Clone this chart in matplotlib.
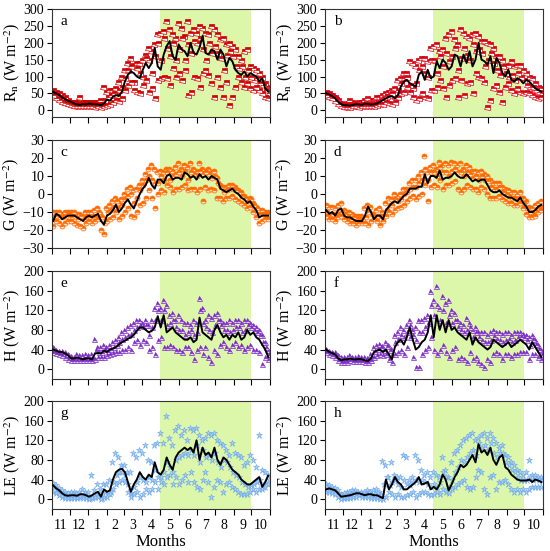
import numpy as np
import matplotlib
matplotlib.use("Agg")
import matplotlib.pyplot as plt

plt.rcParams['font.family'] = ['Liberation Serif', 'DejaVu Serif']
plt.rcParams['mathtext.fontset'] = 'stix'

# 5-day steps starting 1 Nov (day 0) to end of Oct
days = np.arange(0, 365, 5)
month_starts = [0, 30, 61, 92, 120, 151, 181, 212, 242, 273, 304, 334, 365]
month_labels = ['11', '12', '1', '2', '3', '4', '5', '6', '7', '8', '9', '10']
season = (181, 334)  # May - Sep shading

# ---------------- a : Rn (site 1) ----------------
rn1_mean = [55, 50, 45, 38, 32, 28, 25, 20, 17, 16, 18, 17, 20, 18, 18, 17, 15, 20,
            32, 28, 40, 45, 42, 55, 85, 105, 115, 110, 100, 95, 120, 140, 125, 140, 185, 130,
            120, 165, 190, 205, 160, 150, 195, 180, 175, 160, 200, 170, 165, 185, 220, 170, 165, 180,
            175, 150, 180, 165, 130, 155, 145, 120, 110, 105, 115, 100, 110, 105, 100, 85, 95, 65, 55]
rn1_hi = [60, 55, 50, 45, 40, 30, 25, 25, 25, 40, 25, 25, 25, 25, 25, 25, 30, 70,
          55, 60, 60, 65, 85, 100, 120, 140, 155, 135, 140, 140, 150, 165, 185, 175, 195, 225,
          230, 235, 265, 240, 225, 215, 260, 245, 220, 265, 230, 240, 230, 250, 245, 230, 225, 250,
          240, 225, 210, 215, 195, 200, 190, 180, 160, 150, 175, 180, 130, 125, 120, 110, 100, 80, 70]
rn1_mid = [52, 45, 40, 35, 28, 25, 20, 18, 20, 18, 20, 18, 18, 20, 15, 20, 18, 30,
           40, 45, 50, 45, 60, 70, 95, 120, 130, 85, 125, 110, 100, 155, 150, 110, 160, 200,
           150, 215, 185, 160, 200, 150, 180, 215, 150, 195, 170, 205, 200, 215, 180, 150, 200, 170,
           190, 170, 155, 120, 165, 175, 160, 130, 125, 130, 100, 120, 100, 90, 95, 80, 75, 60, 50]
rn1_lo = [45, 35, 30, 25, 22, 18, 15, 12, 12, 12, 12, 12, 12, 12, 10, 12, 10, 12,
          15, 20, 25, 30, 28, 35, 60, 75, 85, 60, 55, 50, 75, 90, 55, 65, 35, 90,
          95, 100, 95, 75, 125, 100, 110, 90, 120, 45, 55, 100, 95, 70, 110, 120, 105, 80,
          40, 100, 70, 40, 85, 15, 40, 70, 100, 85, 70, 80, 65, 60, 70, 60, 50, 40, 35]

# ---------------- b : Rn (site 2) ----------------
rn2_mean = [50, 47, 42, 35, 25, 18, 15, 15, 14, 16, 18, 17, 16, 20, 18, 17, 18, 20,
            25, 30, 35, 40, 42, 35, 45, 70, 85, 90, 80, 75, 70, 105, 115, 90, 120, 95,
            100, 145, 125, 150, 140, 120, 130, 165, 160, 130, 165, 140, 175, 130, 150, 200, 150, 145,
            135, 160, 110, 155, 140, 110, 100, 120, 90, 85, 95, 90, 80, 90, 85, 75, 65, 60, 55]
rn2_hi = [55, 50, 45, 40, 30, 22, 20, 22, 30, 25, 22, 25, 25, 30, 35, 30, 30, 40,
          40, 45, 50, 55, 60, 65, 90, 95, 110, 110, 145, 140, 130, 150, 155, 155, 145, 185,
          190, 195, 175, 180, 215, 225, 235, 210, 195, 240, 230, 220, 215, 225, 230, 220, 205, 205,
          200, 195, 185, 160, 160, 150, 130, 135, 145, 130, 135, 135, 120, 110, 100, 95, 80, 70, 65]
rn2_mid = [52, 45, 40, 32, 22, 15, 15, 18, 15, 20, 15, 15, 18, 22, 20, 22, 20, 25,
           30, 35, 42, 45, 50, 40, 60, 80, 95, 100, 75, 65, 80, 120, 130, 110, 100, 150,
           150, 110, 160, 130, 170, 145, 160, 185, 120, 155, 185, 165, 150, 195, 175, 180, 170, 130,
           150, 170, 140, 120, 105, 130, 110, 100, 105, 90, 110, 100, 90, 75, 70, 70, 60, 55, 50]
rn2_lo = [45, 40, 35, 28, 18, 12, 10, 10, 10, 12, 12, 10, 12, 12, 12, 12, 12, 15,
          18, 20, 25, 22, 20, 25, 40, 50, 55, 70, 55, 40, 30, 35, 50, 40, 35, 60,
          60, 70, 90, 65, 40, 75, 90, 95, 40, 90, 45, 80, 85, 50, 110, 100, 95, 85,
          10, 30, 65, 75, 55, 25, 70, 80, 60, 50, 65, 55, 50, 55, 50, 45, 40, 35, 40]

# ---------------- c : G (site 1) ----------------
g1_mean = [-15, -11, -12, -14, -13, -12, -12, -12, -13, -14, -15, -13, -12, -13, -12, -11, -15, -17,
           -12, -11, -9, -6, -10, -8, -5, -3, -6, -8, -4, 0, 3, 5, 9, 5, 3, 8,
           8, 6, 10, 11, 8, 9, 9, 8, 12, 11, 9, 10, 8, 11, 9, 10, 8, 10,
           9, 8, 3, 2, 1, 2, 3, 1, 0, -2, -3, -5, -4, -7, -9, -13, -12, -12, -12]
g1_hi = [-10, -10, -10, -11, -10, -10, -10, -10, -11, -11, -12, -10, -10, -10, -9, -8, -11, -14,
         -8, -6, -4, -2, -5, -3, 0, 3, 4, 2, 3, 5, 8, 11, 14, 16, 14, 12,
         13, 12, 14, 14, 13, 15, 17, 14, 16, 15, 17, 14, 13, 17, 14, 13, 14, 12,
         13, 9, 5, 4, 4, 5, 5, 4, 2, 1, -1, -3, -2, -5, -7, -9, -9, -10, -10]
g1_mid = [-13, -12, -13, -13, -12, -11, -13, -12, -14, -12, -14, -12, -13, -12, -13, -10, -13, -16,
          -10, -9, -7, -4, -8, -6, -3, -1, 0, -5, -2, 2, 5, 8, 10, 8, 6, 6,
          10, 8, 12, 8, 10, 11, 12, 10, 13, 8, 12, 11, 10, 13, 11, 12, 11, 9,
          10, 6, 4, 1, 2, 3, 3, 2, 1, -1, -2, -4, -3, -6, -8, -11, -11, -11, -11]
g1_lo = [-18, -15, -16, -18, -16, -15, -15, -16, -17, -18, -19, -16, -15, -16, -15, -14, -20, -22,
         -15, -14, -13, -10, -14, -12, -10, -8, -12, -13, -10, -6, -5, -2, 2, -2, -8, 0,
         2, 1, 5, 4, 1, 3, 3, 4, 5, 2, 3, 3, 1, 3, -4, 4, 2, 3,
         2, -2, -2, -4, -2, -2, -1, -3, -4, -5, -6, -8, -7, -10, -13, -16, -15, -14, -14]

# ---------------- d : G (site 2) ----------------
g2_mean = [-9, -11, -10, -12, -9, -8, -12, -13, -13, -14, -15, -15, -15, -12, -7, -10, -14, -12,
           -12, -14, -9, -7, -5, -4, -5, -3, -1, 0, 3, 3, 3, 4, 4, 11, 6, 10,
           10, 9, 13, 8, 9, 9, 10, 12, 10, 9, 9, 11, 9, 7, 8, 7, 8, 8,
           5, 2, 1, 1, 2, 0, -1, -2, -2, -3, -4, -2, -5, -7, -10, -10, -9, -7, -6]
g2_hi = [-6, -7, -7, -8, -6, -5, -9, -10, -10, -11, -12, -12, -12, -8, -6, -7, -11, -9,
         -8, -10, -5, -2, -3, 0, -1, 0, 3, 3, 6, 8, 8, 10, 12, 21, 12, 15,
         16, 14, 18, 16, 17, 16, 18, 17, 16, 17, 14, 16, 15, 13, 13, 12, 13, 11,
         10, 8, 6, 6, 6, 4, 3, 2, 1, 1, 0, 1, -2, -4, -7, -8, -6, -5, -4]
g2_mid = [-10, -12, -11, -13, -11, -10, -11, -12, -14, -13, -14, -14, -14, -13, -10, -11, -13, -12,
          -12, -12, -9, -6, -6, -3, -4, -3, 0, 1, 3, 4, 4, 6, 8, 14, 8, 12,
          12, 10, 15, 12, 12, 10, 13, 14, 12, 12, 10, 12, 11, 9, 10, 8, 10, 8,
          7, 4, 3, 3, 4, 1, 0, -1, -2, -2, -3, -2, -5, -8, -10, -11, -9, -8, -7]
g2_lo = [-12, -14, -14, -15, -13, -12, -14, -15, -16, -16, -17, -16, -16, -16, -17, -15, -12, -15,
         -17, -15, -12, -10, -11, -9, -8, -7, -6, -4, -2, -1, -3, -1, 0, 5, -4, 4,
         5, 4, 8, 3, 5, 5, 6, 7, 3, 1, 3, 5, 4, 3, 3, 1, 4, 3,
         0, -2, -2, -2, -1, -3, -4, -5, -5, -6, -6, -5, -8, -11, -13, -13, -12, -10, -9]

# ---------------- e : H (site 1) ----------------
h1_mean = [40, 38, 35, 35, 32, 28, 22, 22, 24, 22, 20, 22, 22, 20, 32, 33, 32, 38,
           35, 40, 42, 45, 50, 55, 58, 62, 65, 70, 78, 85, 85, 80, 75, 78, 85, 108,
           85, 110, 75, 80, 85, 75, 70, 65, 60, 60, 65, 55, 60, 105, 75, 70, 65, 60,
           80, 90, 75, 65, 70, 60, 70, 65, 75, 60, 65, 80, 70, 75, 65, 60, 50, 40, 25]
h1_hi = [45, 40, 38, 38, 35, 30, 26, 25, 30, 28, 28, 30, 28, 30, 62, 45, 45, 50,
         45, 50, 55, 60, 65, 75, 80, 85, 90, 95, 100, 100, 95, 100, 90, 100, 125, 135,
         125, 140, 130, 110, 115, 100, 110, 100, 95, 95, 90, 100, 95, 145, 125, 100, 110, 105,
         110, 115, 100, 95, 95, 100, 95, 100, 100, 95, 100, 100, 95, 90, 85, 80, 70, 55, 40]
h1_mid = [38, 36, 33, 32, 30, 25, 20, 22, 22, 20, 22, 25, 20, 22, 40, 35, 35, 42,
          38, 42, 45, 50, 55, 62, 65, 70, 72, 80, 85, 90, 88, 90, 70, 85, 100, 120,
          100, 120, 90, 95, 100, 85, 80, 80, 70, 75, 80, 70, 75, 120, 95, 85, 80, 75,
          90, 100, 90, 80, 80, 75, 80, 85, 85, 75, 80, 90, 85, 80, 75, 70, 55, 45, 30]
h1_lo = [35, 32, 30, 28, 25, 20, 18, 18, 18, 18, 18, 18, 18, 18, 20, 25, 25, 25,
         28, 30, 32, 35, 35, 40, 40, 45, 40, 55, 60, 50, 60, 55, 40, 45, 30, 60,
         65, 45, 45, 50, 45, 40, 40, 35, 45, 45, 35, 20, 40, 45, 30, 45, 25, 15,
         40, 30, 50, 55, 45, 40, 50, 55, 45, 50, 40, 45, 50, 40, 40, 35, 10, 25, 20]

# ---------------- f : H (site 2) ----------------
h2_mean = [40, 35, 33, 30, 22, 18, 20, 20, 22, 20, 20, 21, 20, 18, 17, 22, 35, 38,
           40, 35, 40, 30, 20, 45, 55, 60, 50, 65, 85, 60, 40, 45, 55, 60, 75, 110,
           65, 110, 80, 100, 75, 100, 80, 85, 75, 70, 65, 60, 75, 50, 65, 55, 50, 45,
           40, 45, 60, 55, 50, 45, 50, 55, 45, 50, 55, 60, 55, 50, 40, 55, 45, 35, 25]
h2_hi = [42, 38, 36, 35, 28, 24, 25, 25, 28, 25, 24, 26, 25, 24, 22, 30, 45, 50,
         52, 48, 55, 50, 42, 70, 75, 85, 80, 90, 100, 80, 85, 100, 100, 105, 110, 160,
         140, 170, 125, 150, 135, 140, 120, 115, 100, 95, 90, 105, 95, 80, 85, 75, 75, 75,
         70, 75, 80, 75, 75, 72, 75, 75, 70, 75, 75, 75, 72, 70, 65, 70, 60, 50, 40]
h2_mid = [38, 33, 31, 28, 20, 17, 18, 18, 20, 18, 18, 19, 18, 17, 18, 25, 38, 42,
          45, 40, 48, 40, 30, 55, 62, 70, 65, 75, 90, 70, 60, 75, 75, 85, 95, 130,
          110, 130, 100, 120, 95, 110, 95, 100, 85, 80, 75, 80, 85, 65, 75, 65, 60, 55,
          55, 60, 68, 62, 60, 55, 60, 62, 55, 60, 65, 68, 65, 60, 50, 62, 52, 42, 30]
h2_lo = [35, 30, 28, 25, 18, 15, 15, 15, 18, 16, 16, 16, 16, 15, 15, 18, 25, 28,
         30, 28, 30, 20, 15, 30, 35, 40, 30, 45, 65, 25, 5, 5, 30, 40, 45, 65,
         40, 30, 40, 50, 35, 25, 40, 45, 20, 25, 20, 15, 35, 20, 25, 15, 10, 5,
         20, 15, 30, 35, 30, 20, 30, 30, 25, 30, 30, 35, 35, 35, 20, 30, 30, 25, 20]

# ---------------- g : LE (site 1) ----------------
le1_mean = [28, 22, 18, 12, 8, 7, 8, 8, 7, 10, 10, 8, 5, 8, 12, 15, 5, 20,
            15, 18, 40, 55, 60, 62, 55, 35, 15, 30, 40, 55, 45, 40, 50, 45, 75, 55,
            50, 60, 85, 70, 60, 85, 95, 100, 105, 100, 105, 95, 120, 80, 105, 90, 95, 85,
            105, 80, 70, 85, 80, 70, 60, 55, 50, 40, 35, 30, 30, 35, 40, 45, 25, 35, 48]
le1_hi = [32, 28, 22, 18, 15, 12, 15, 15, 12, 15, 20, 15, 15, 50, 18, 30, 20, 30,
          30, 40, 75, 95, 85, 70, 70, 55, 55, 95, 85, 100, 95, 110, 80, 75, 110, 115,
          135, 115, 170, 125, 110, 140, 150, 130, 140, 120, 145, 140, 145, 130, 120, 125, 135, 130,
          135, 120, 115, 110, 100, 90, 115, 95, 90, 85, 70, 75, 90, 80, 65, 130, 60, 55, 50]
le1_mid = [25, 18, 14, 10, 6, 5, 6, 6, 5, 8, 8, 6, 3, 5, 10, 12, 3, 15,
           12, 15, 35, 50, 55, 55, 50, 30, 12, 25, 35, 45, 40, 35, 45, 40, 60, 45,
           45, 55, 75, 65, 55, 80, 85, 90, 95, 90, 100, 90, 110, 75, 100, 85, 90, 80,
           95, 75, 65, 80, 75, 65, 55, 50, 45, 35, 30, 25, 28, 30, 35, 40, 25, 32, 40]
le1_lo = [15, 12, 8, 5, 3, 3, 3, 3, 3, 5, 3, 3, 0, 2, 5, 5, 0, 5,
          5, 10, 20, 30, 35, 40, 35, 15, 5, 10, 15, 5, 10, 20, 15, 20, 35, 20,
          35, 30, 45, 50, 30, 45, 30, 40, 50, 35, 55, 35, 25, 20, 40, 55, 35, 5,
          25, 40, 35, 15, 30, 35, 25, 20, 15, 10, 10, 10, 15, 20, 15, 20, 20, 25, 30]

# ---------------- h : LE (site 2) ----------------
le2_mean = [20, 22, 20, 18, 12, 5, 6, 7, 8, 10, 12, 12, 10, 8, 10, 10, 8, 8,
            5, 2, 40, 20, 30, 45, 35, 30, 20, 20, 25, 30, 35, 45, 30, 32, 35, 20,
            25, 20, 30, 50, 40, 18, 30, 45, 55, 70, 65, 70, 80, 90, 75, 112, 95, 100,
            90, 105, 80, 70, 85, 90, 65, 60, 50, 45, 40, 38, 38, 38, 40, 35, 40, 38, 35]
le2_hi = [30, 28, 25, 22, 18, 10, 12, 15, 15, 18, 18, 15, 15, 15, 18, 15, 18, 20,
          15, 78, 70, 45, 75, 50, 45, 45, 90, 85, 40, 45, 90, 80, 60, 50, 55, 45,
          55, 50, 45, 85, 60, 45, 75, 95, 100, 110, 120, 125, 130, 135, 120, 125, 130, 135,
          125, 135, 125, 115, 105, 110, 90, 85, 75, 70, 60, 55, 50, 55, 80, 50, 50, 45, 45]
le2_mid = [22, 20, 18, 15, 10, 4, 5, 6, 10, 12, 10, 10, 10, 10, 12, 8, 10, 12,
           8, 30, 45, 28, 35, 40, 30, 25, 40, 30, 28, 35, 40, 35, 40, 35, 30, 25,
           30, 25, 35, 55, 45, 25, 40, 55, 65, 80, 75, 85, 95, 100, 90, 115, 105, 110,
           100, 115, 95, 85, 95, 95, 75, 70, 60, 55, 45, 40, 40, 40, 45, 40, 42, 40, 38]
le2_lo = [15, 15, 12, 10, 5, 0, 2, 3, 3, 5, 5, 8, 5, 5, 5, 3, 3, 3,
          0, 0, 5, 15, 10, 5, 10, 5, 5, 8, 10, 15, 5, 10, 15, 15, 10, 8,
          10, 15, 10, 20, 15, 12, 20, 25, 30, 35, 40, 25, 20, 25, 45, 60, 55, 20,
          10, 45, 50, 20, 35, 35, 40, 30, 20, 15, 20, 15, 20, 15, 20, 25, 25, 25, 25]

panels = [
    ('a', rn1_mean, [rn1_hi, rn1_mid, rn1_lo], 's', '#d00000', '#ffffff', r'R$_\mathrm{n}$ (W m$^{-2}$)'),
    ('b', rn2_mean, [rn2_hi, rn2_mid, rn2_lo], 's', '#d80010', '#ffffff', r'R$_\mathrm{n}$ (W m$^{-2}$)'),
    ('c', g1_mean, [g1_hi, g1_mid, g1_lo], 'o', '#ff6a00', '#ffe0c8', r'G (W m$^{-2}$)'),
    ('d', g2_mean, [g2_hi, g2_mid, g2_lo], 'o', '#ff6a00', '#ffe0c8', r'G (W m$^{-2}$)'),
    ('e', h1_mean, [h1_hi, h1_mid, h1_lo], '^', '#7a2cc0', '#e6d2f6', r'H (W m$^{-2}$)'),
    ('f', h2_mean, [h2_hi, h2_mid, h2_lo], '^', '#7a2cc0', '#e6d2f6', r'H (W m$^{-2}$)'),
    ('g', le1_mean, [le1_hi, le1_mid, le1_lo], '*', '#6aa6ec', '#a8cdf5', r'LE (W m$^{-2}$)'),
    ('h', le2_mean, [le2_hi, le2_mid, le2_lo], '*', '#6aa6ec', '#a8cdf5', r'LE (W m$^{-2}$)'),
]
ylims = {'a': (-20, 300), 'b': (-20, 300), 'c': (-30, 30), 'd': (-30, 30)}
yticks = {'a': np.arange(0, 301, 50), 'b': np.arange(0, 301, 50), 'c': np.arange(-30, 31, 10),
          'd': np.arange(-30, 31, 10)}

fig = plt.figure(figsize=(5.5, 5.51), dpi=100)
lefts = [52 / 550, 325 / 550]
tops = [9, 140, 271, 401]
w = 218 / 550
h = 108 / 551

for k, (lab, mean, scat, mk, col, alt, ylab) in enumerate(panels):
    row, colm = k // 2, k % 2
    ax = fig.add_axes([lefts[colm], 1 - (tops[row] + 108) / 551, w, h])
    ax.axvspan(season[0], season[1], color='#dcf7aa', lw=0, zorder=0)
    offs = [1, 3, 2]
    for s, o in zip(scat, offs):
        if mk == '*':
            ax.plot(days + o, s, ls='none', marker=mk, ms=4.8, mfc=alt, mec=col,
                    mew=0.4, zorder=2)
        else:
            ax.plot(days + o, s, ls='none', marker=mk, ms=3.6,
                    mfc=col, mfcalt=alt, mec=col, mew=0.5,
                    fillstyle='top', zorder=2)
    ax.plot(days + 2, mean, color='black', lw=1.4, zorder=3)

    ax.set_xlim(0, 365)
    ax.set_ylim(*ylims.get(lab, (-20, 200)))
    ax.set_yticks(yticks.get(lab, np.arange(0, 201, 40)))
    ax.set_xticks(month_starts)
    ax.set_xticklabels([])
    ax.set_xticks([(month_starts[i] + month_starts[i + 1]) / 2 for i in range(12)], minor=True)
    if row == 3:
        ax.set_xticklabels(month_labels, minor=True)
        ax.set_xlabel('Months', fontsize=12, labelpad=2)
    ax.tick_params(axis='x', which='major', direction='out', length=4, width=0.8)
    ax.tick_params(axis='x', which='minor', length=0, labelsize=10, pad=7)
    ax.tick_params(axis='y', direction='out', length=3.5, width=0.8, labelsize=10, pad=2)
    ax.set_ylabel(ylab, fontsize=11.5, labelpad=1)
    ax.text(0.04, 0.88, lab, transform=ax.transAxes, fontsize=11, va='center')
    for sp in ax.spines.values():
        sp.set_linewidth(0.8)
        sp.set_color('#333333')

fig.savefig('out.png', dpi=100)
